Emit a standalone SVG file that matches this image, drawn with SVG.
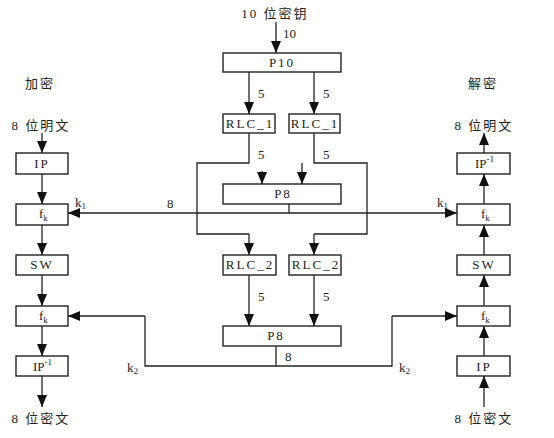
<svg xmlns="http://www.w3.org/2000/svg" width="554" height="438" viewBox="0 0 554 438">
<style>
.box{fill:#fff;stroke:#222;stroke-width:1.4}
.ln{fill:none;stroke:#222;stroke-width:1.3}
.ar{fill:none;stroke:#222;stroke-width:1.3;marker-end:url(#ah)}
text{font-family:"Liberation Serif","Noto Sans CJK SC",serif;font-size:13px;fill:#222}
.c{text-anchor:middle}
.sp{letter-spacing:2px}
.sub{font-size:9px}
</style>
<defs>
<marker id="ah" viewBox="0 0 12 10" refX="12" refY="5" markerWidth="12" markerHeight="10" markerUnits="userSpaceOnUse" orient="auto">
<path d="M0,0 L12,5 L0,10 Z" fill="#111"/>
</marker>
</defs>
<rect width="554" height="438" fill="#fff"/>

<g id="labels">
<text x="275" y="18" class="c sp">10 位密钥</text>
<text x="40" y="88" class="c sp">加密</text>
<text x="483" y="88" class="c sp">解密</text>
<text x="41" y="130" class="c sp">8 位明文</text>
<text x="484" y="130" class="c sp">8 位明文</text>
<text x="41" y="423" class="c sp">8 位密文</text>
<text x="484" y="423" class="c sp">8 位密文</text>
</g>

<g id="connectors">
<path class="ar" d="M276,22 V53"/>
<path class="ar" d="M249,72 V114"/>
<path class="ar" d="M314,72 V114"/>
<path class="ln" d="M249,133 V163 H197 V234 H249"/>
<path class="ar" d="M249,234 V255"/>
<path class="ar" d="M262,171 V184"/>
<path class="ln" d="M314,133 V163 H367 V234 H314"/>
<path class="ar" d="M314,234 V255"/>
<path class="ar" d="M302,163 V184"/>
<path class="ln" d="M289,204 V213"/>
<path class="ar" d="M289,213 H68"/>
<path class="ar" d="M289,213 H457"/>
<path class="ar" d="M249,275 V326"/>
<path class="ar" d="M314,275 V326"/>
<path class="ln" d="M276,346 V366 H145 V316"/>
<path class="ar" d="M145,316 H68"/>
<path class="ln" d="M276,366 H392 V316"/>
<path class="ar" d="M392,316 H457"/>
<path class="ar" d="M42,133 V153"/>
<path class="ar" d="M42,174 V204"/>
<path class="ar" d="M42,225 V255"/>
<path class="ar" d="M42,275 V306"/>
<path class="ar" d="M42,326 V356"/>
<path class="ar" d="M42,376 V407"/>
<path class="ar" d="M484,407 V376"/>
<path class="ar" d="M484,356 V326"/>
<path class="ar" d="M484,306 V275"/>
<path class="ar" d="M484,255 V225"/>
<path class="ar" d="M484,204 V174"/>
<path class="ar" d="M484,153 V133"/>
</g>

<g id="edge-labels">
<text x="283" y="38">10</text>
<text x="258" y="98">5</text>
<text x="323" y="98">5</text>
<text x="258" y="159">5</text>
<text x="323" y="159">5</text>
<text x="258" y="301">5</text>
<text x="323" y="301">5</text>
<text x="167" y="208">8</text>
<text x="285" y="361">8</text>
<text x="75" y="207">k<tspan class="sub" dy="2">1</tspan></text>
<text x="437" y="207">k<tspan class="sub" dy="2">1</tspan></text>
<text x="127" y="372">k<tspan class="sub" dy="2">2</tspan></text>
<text x="399" y="372">k<tspan class="sub" dy="2">2</tspan></text>
</g>

<g id="P10"><rect class="box" x="223" y="53" width="118" height="19"/><text x="282" y="67" class="c sp">P10</text></g>
<g id="RLC1a"><rect class="box" x="223" y="114" width="52" height="19"/><text x="250" y="128" class="c sp">RLC_1</text></g>
<g id="RLC1b"><rect class="box" x="289" y="114" width="51" height="19"/><text x="315" y="128" class="c sp">RLC_1</text></g>
<g id="P8a"><rect class="box" x="223" y="184" width="118" height="20"/><text x="283" y="198" class="c sp">P8</text></g>
<g id="RLC2a"><rect class="box" x="223" y="255" width="53" height="20"/><text x="250" y="269" class="c sp">RLC_2</text></g>
<g id="RLC2b"><rect class="box" x="289" y="255" width="52" height="20"/><text x="316" y="269" class="c sp">RLC_2</text></g>
<g id="P8b"><rect class="box" x="223" y="326" width="118" height="20"/><text x="276" y="340" class="c sp">P8</text></g>

<g id="enc-IP"><rect class="box" x="16" y="153" width="52" height="21"/><text x="42" y="168" class="c sp">IP</text></g>
<g id="enc-fk1"><rect class="box" x="16" y="204" width="52" height="21"/><text x="39" y="218">f<tspan class="sub" dy="3">k</tspan></text></g>
<g id="enc-SW"><rect class="box" x="16" y="255" width="52" height="20"/><text x="42" y="269" class="c sp">SW</text></g>
<g id="enc-fk2"><rect class="box" x="16" y="306" width="52" height="20"/><text x="39" y="320">f<tspan class="sub" dy="3">k</tspan></text></g>
<g id="enc-IPinv"><rect class="box" x="16" y="356" width="52" height="20"/><text x="33" y="371">IP<tspan class="sub" dy="-6">-1</tspan></text></g>

<g id="dec-IPinv"><rect class="box" x="457" y="153" width="53" height="21"/><text x="475" y="168">IP<tspan class="sub" dy="-6">-1</tspan></text></g>
<g id="dec-fk1"><rect class="box" x="457" y="204" width="53" height="21"/><text x="481" y="218">f<tspan class="sub" dy="3">k</tspan></text></g>
<g id="dec-SW"><rect class="box" x="457" y="255" width="53" height="20"/><text x="484" y="269" class="c sp">SW</text></g>
<g id="dec-fk2"><rect class="box" x="457" y="306" width="53" height="20"/><text x="481" y="320">f<tspan class="sub" dy="3">k</tspan></text></g>
<g id="dec-IP"><rect class="box" x="457" y="356" width="53" height="20"/><text x="484" y="371" class="c sp">IP</text></g>
</svg>
